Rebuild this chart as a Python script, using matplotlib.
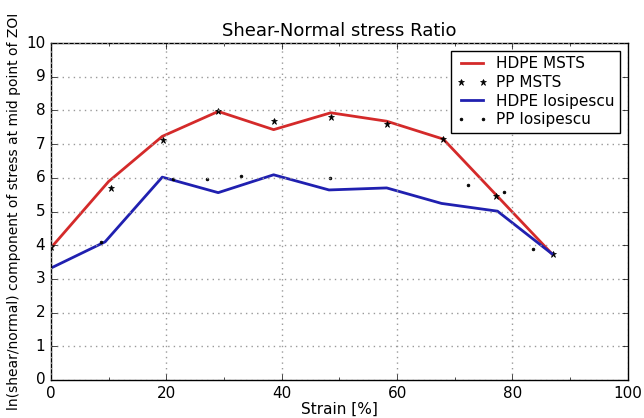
import matplotlib
matplotlib.use("Agg")
import matplotlib.pyplot as plt
from matplotlib.ticker import MultipleLocator

plt.style.use('classic')

hdpe_msts_x = [0, 10.0, 19.3, 29.0, 38.6, 48.5, 58.2, 68.0, 77.4, 86.8]
hdpe_msts_y = [3.92, 5.89, 7.23, 7.97, 7.43, 7.93, 7.68, 7.15, 5.45, 3.75]

pp_msts_x = [0, 10.5, 19.5, 29.0, 38.7, 48.5, 58.2, 68.0, 77.2, 87.0]
pp_msts_y = [3.95, 5.69, 7.11, 7.97, 7.70, 7.80, 7.60, 7.15, 5.45, 3.75]

hdpe_ios_x = [0, 9.4, 19.3, 29.0, 38.6, 48.2, 58.2, 67.7, 77.4, 86.8]
hdpe_ios_y = [3.32, 4.10, 6.02, 5.56, 6.09, 5.64, 5.70, 5.24, 5.01, 3.75]

pp_ios_x = [8.7, 21.1, 27.1, 32.9, 48.3, 72.3, 78.6, 83.5]
pp_ios_y = [4.10, 5.97, 5.97, 6.06, 5.99, 5.79, 5.59, 3.90]

fig = plt.figure(figsize=(6.44, 4.18), dpi=100, facecolor='white')
ax = fig.add_axes([0.079, 0.091, 0.896, 0.806])

ax.plot(hdpe_msts_x, hdpe_msts_y, color='#d42a2a', lw=2, label='HDPE MSTS')
ax.plot(pp_msts_x, pp_msts_y, ls='none', marker='*', color='black', ms=5, mec='black', label='PP MSTS')
ax.plot(hdpe_ios_x, hdpe_ios_y, color='#2020b0', lw=2, label='HDPE Iosipescu')
ax.plot(pp_ios_x, pp_ios_y, ls='none', marker='.', color='black', ms=4, label='PP Iosipescu')

ax.set_xlim(0, 100)
ax.set_ylim(0, 10)
ax.xaxis.set_major_locator(MultipleLocator(20))
ax.xaxis.set_minor_locator(MultipleLocator(10))
ax.yaxis.set_major_locator(MultipleLocator(1))
ax.grid(True, which='major', color='#999999', ls=':', lw=1)
ax.tick_params(labelsize=11)

ax.set_title('Shear-Normal stress Ratio', fontsize=13)
ax.set_xlabel('Strain [%]', fontsize=11, labelpad=1)
ax.set_ylabel('ln(shear/normal) component of stress at mid point of ZOI', fontsize=10)
ax.yaxis.set_label_coords(-0.052, 0.5)

leg = ax.legend(loc='upper right', fontsize=11, numpoints=2, handlelength=2.0,
                labelspacing=0.25, borderpad=0.35, handletextpad=0.6, fancybox=False)
leg.get_frame().set_edgecolor('black')

fig.savefig('out.png', dpi=100, facecolor='white')
